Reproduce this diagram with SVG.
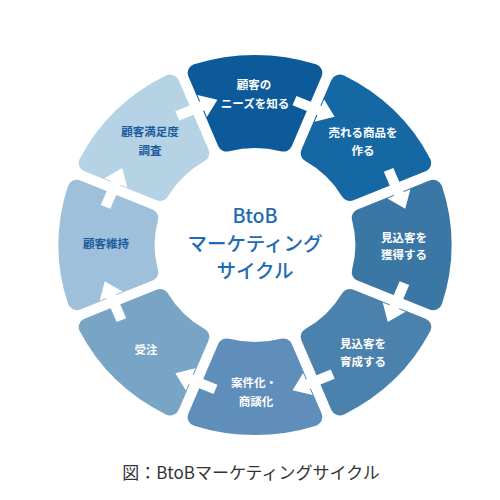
<svg xmlns="http://www.w3.org/2000/svg" width="500" height="500" viewBox="0 0 500 500">
<defs>
<style>
.seg{stroke-width:18;stroke-linejoin:round}
.lbl{font-family:"Noto Sans CJK JP","Noto Sans",sans-serif;font-size:11.5px;font-weight:bold;text-anchor:middle}
.w{fill:#ffffff}
.b{fill:#1b5c9e}
.title{font-family:"Noto Sans CJK JP","Noto Sans",sans-serif;font-size:19.5px;font-weight:500;fill:#1e6cb3;text-anchor:middle}
.cap{font-family:"Noto Sans CJK JP","Noto Sans",sans-serif;font-size:17px;font-weight:normal;fill:#333333;text-anchor:middle}
.arr{fill:#ffffff}
</style>
<path id="segshape" d="M -56.13,-172.08 A 181 181 0 0 1 56.13,-172.08 L 27.28,-102.43 A 106 106 0 0 0 -27.28,-102.43 Z"/>
<path id="arrow" d="M -5,-20 L -5,6 L -12,6 L 0,22 L 12,6 L 5,6 L 5,-20 Z"/>
</defs>
<rect width="500" height="500" fill="#ffffff"/>
<g id="n1">
<use href="#segshape" class="seg" fill="#0d5a9b" stroke="#0d5a9b" transform="translate(255,245) scale(1.035,1)"/>
<text class="lbl w" x="254" y="89">顧客の</text>
<text class="lbl w" x="255" y="108">ニーズを知る</text>
</g>
<g id="n2">
<use href="#segshape" class="seg" fill="#1568a4" stroke="#1568a4" transform="translate(255,245) scale(1.035,1) rotate(45)"/>
<text class="lbl w" x="363" y="137">売れる商品を</text>
<text class="lbl w" x="363" y="155">作る</text>
</g>
<g id="n3">
<use href="#segshape" class="seg" fill="#3b77a5" stroke="#3b77a5" transform="translate(255,245) scale(1.035,1) rotate(90)"/>
<text class="lbl w" x="404" y="242">見込客を</text>
<text class="lbl w" x="404" y="259">獲得する</text>
</g>
<g id="n4">
<use href="#segshape" class="seg" fill="#4a81ad" stroke="#4a81ad" transform="translate(255,245) scale(1.035,1) rotate(135)"/>
<text class="lbl w" x="363" y="348">見込客を</text>
<text class="lbl w" x="363" y="366">育成する</text>
</g>
<g id="n5">
<use href="#segshape" class="seg" fill="#5f8ebb" stroke="#5f8ebb" transform="translate(255,245) scale(1.035,1) rotate(180)"/>
<text class="lbl w" x="254" y="387">案件化・</text>
<text class="lbl w" x="256" y="406">商談化</text>
</g>
<g id="n6">
<use href="#segshape" class="seg" fill="#78a4c6" stroke="#78a4c6" transform="translate(255,245) scale(1.035,1) rotate(225)"/>
<text class="lbl w" x="146" y="354">受注</text>
</g>
<g id="n7">
<use href="#segshape" class="seg" fill="#9fc0da" stroke="#9fc0da" transform="translate(255,245) scale(1.035,1) rotate(270)"/>
<text class="lbl b" x="106" y="248">顧客維持</text>
</g>
<g id="n8">
<use href="#segshape" class="seg" fill="#b6d2e5" stroke="#b6d2e5" transform="translate(255,245) scale(1.035,1) rotate(315)"/>
<text class="lbl b" x="150" y="136">顧客満足度</text>
<text class="lbl b" x="150" y="155">調査</text>
</g>
<g id="connectors">
<use href="#arrow" class="arr" transform="translate(255,245) scale(1.035,1) rotate(-112.5) translate(148,0)"/>
<use href="#arrow" class="arr" transform="translate(255,245) scale(1.035,1) rotate(-67.5) translate(148,0)"/>
<use href="#arrow" class="arr" transform="translate(255,245) scale(1.035,1) rotate(-22.5) translate(148,0)"/>
<use href="#arrow" class="arr" transform="translate(255,245) scale(1.035,1) rotate(22.5) translate(148,0)"/>
<use href="#arrow" class="arr" transform="translate(255,245) scale(1.035,1) rotate(67.5) translate(148,0)"/>
<use href="#arrow" class="arr" transform="translate(255,245) scale(1.035,1) rotate(112.5) translate(148,0)"/>
<use href="#arrow" class="arr" transform="translate(255,245) scale(1.035,1) rotate(157.5) translate(148,0)"/>
<use href="#arrow" class="arr" transform="translate(255,245) scale(1.035,1) rotate(202.5) translate(148,0)"/>
</g>
<g id="center">
<text class="title" x="255" y="223">BtoB</text>
<text class="title" x="255" y="251">マーケティング</text>
<text class="title" x="255" y="278">サイクル</text>
</g>
<text class="cap" x="251" y="479">図：BtoBマーケティングサイクル</text>
</svg>
